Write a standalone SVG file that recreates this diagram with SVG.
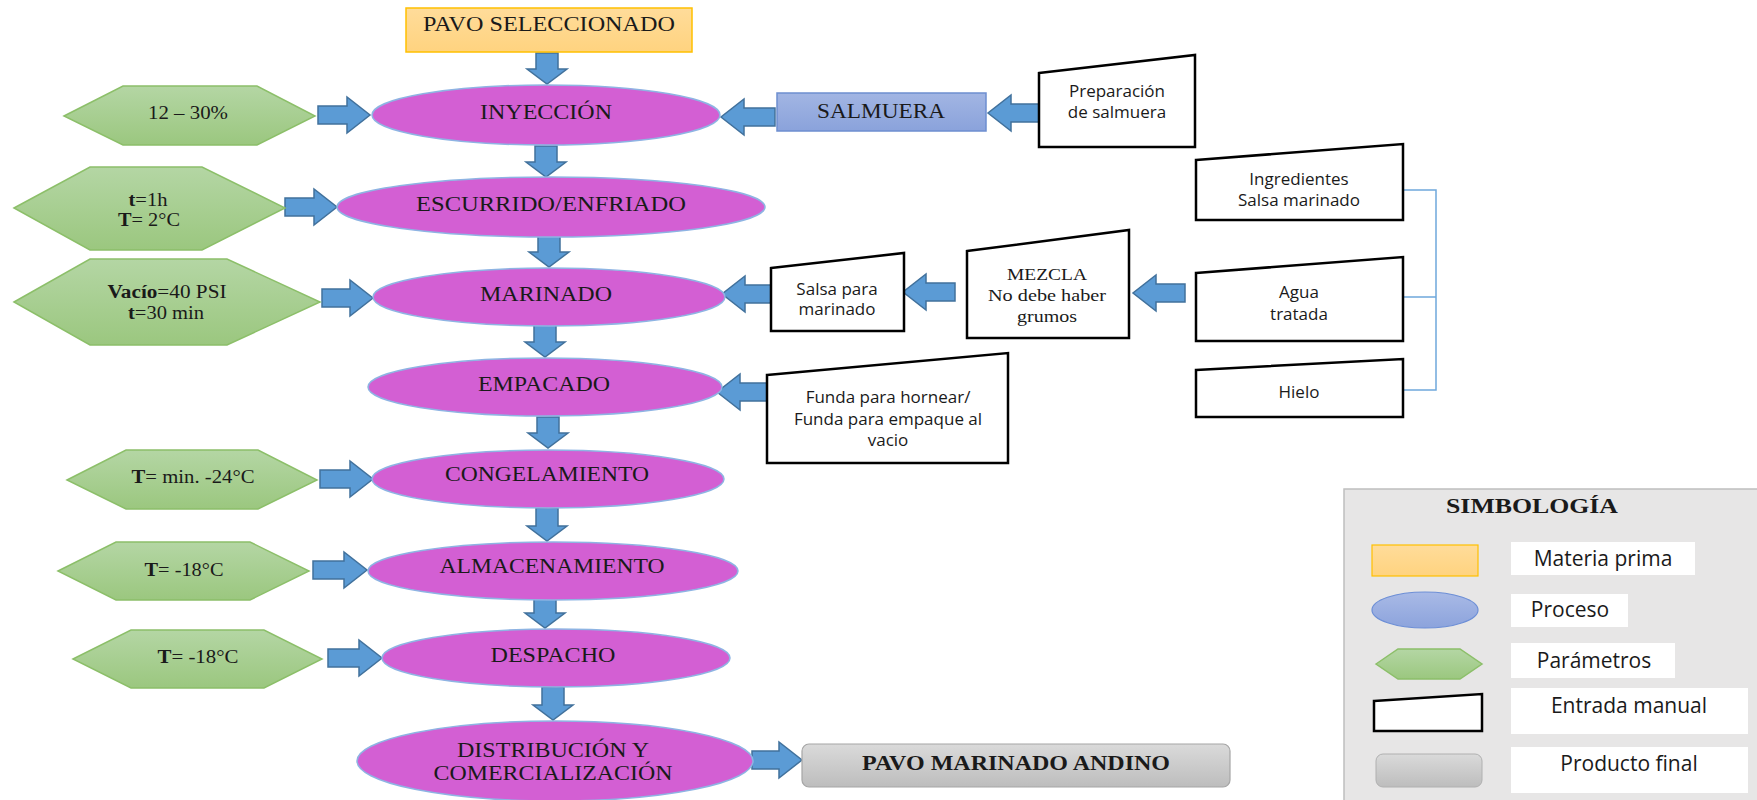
<svg xmlns="http://www.w3.org/2000/svg" width="1757" height="800" viewBox="0 0 1757 800">
<defs>
<linearGradient id="gHex" x1="0" y1="0" x2="0" y2="1"><stop offset="0" stop-color="#B4D6A4"/><stop offset="1" stop-color="#9BC77F"/></linearGradient>
<linearGradient id="gRaw" x1="0" y1="0" x2="0" y2="1"><stop offset="0" stop-color="#FFDC9A"/><stop offset="1" stop-color="#FFD37F"/></linearGradient>
<linearGradient id="gSal" x1="0" y1="0" x2="0" y2="1"><stop offset="0" stop-color="#A2B5E3"/><stop offset="1" stop-color="#8AA2DB"/></linearGradient>
<linearGradient id="gProc" x1="0" y1="0" x2="0" y2="1"><stop offset="0" stop-color="#A9BAE6"/><stop offset="1" stop-color="#8CA3DC"/></linearGradient>
<linearGradient id="gFin" x1="0" y1="0" x2="0" y2="1"><stop offset="0" stop-color="#DADADA"/><stop offset="1" stop-color="#BDBDBD"/></linearGradient>
<style>
.proc{fill:#D35FD3;stroke:#8EB4E3;stroke-width:1.5}
.hex{fill:url(#gHex);stroke:#8CBF69;stroke-width:1.5}
.man{fill:#FFFFFF;stroke:#000000;stroke-width:2.5}
.arr{fill:#5B9BD5;stroke:#41719C;stroke-width:1.5}
.ser{font-family:"Liberation Serif","Times New Roman",serif;fill:#1A1A1A;text-anchor:middle}
.sans{font-family:"Open Sans","Liberation Sans",sans-serif;fill:#1A1A1A;text-anchor:middle}
.pl{font-size:21px}
.hx{font-size:18px}
.bx{font-size:17px}
.lg{font-size:21px}
.lbl{fill:#FFFFFF}
</style>
</defs>
<rect width="1757" height="800" fill="#FFFFFF"/>

<g id="connectors">
<path class="arr" d="M536,53 H558 V69 H567 L547,84 L527,69 H536 Z"/>
<path class="arr" d="M535,146 H557 V162 H566 L546,177 L526,162 H535 Z"/>
<path class="arr" d="M538,236 H560 V252 H569 L549,267 L529,252 H538 Z"/>
<path class="arr" d="M534,325 H556 V342 H565 L545,357 L525,342 H534 Z"/>
<path class="arr" d="M537,417 H559 V433 H568 L548,448 L528,433 H537 Z"/>
<path class="arr" d="M536,508 H558 V526 H567 L547,541 L527,526 H536 Z"/>
<path class="arr" d="M534,598 H556 V613 H565 L545,628 L525,613 H534 Z"/>
<path class="arr" d="M542,687 H564 V705 H573 L553,720 L533,705 H542 Z"/>
<path class="arr" d="M318,106 H347 V97 L370,115 L347,133 V124 H318 Z"/>
<path class="arr" d="M285,198 H314 V189 L337,207 L314,225 V216 H285 Z"/>
<path class="arr" d="M322,289 H350 V280 L373,298 L350,316 V307 H322 Z"/>
<path class="arr" d="M320,470 H350 V461 L373,479 L350,497 V488 H320 Z"/>
<path class="arr" d="M313,561 H344 V552 L367,570 L344,588 V579 H313 Z"/>
<path class="arr" d="M328,649 H359 V640 L382,658 L359,676 V667 H328 Z"/>
<path class="arr" d="M752,751 H779 V742 L802,760 L779,778 V769 H752 Z"/>
<path class="arr" d="M775,108 H744 V99 L721,117 L744,135 V126 H775 Z"/>
<path class="arr" d="M1040,104 H1011 V95 L988,113 L1011,131 V122 H1040 Z"/>
<path class="arr" d="M772,285 H745 V276 L722,294 L745,312 V303 H772 Z"/>
<path class="arr" d="M955,283 H926 V274 L903,292 L926,310 V301 H955 Z"/>
<path class="arr" d="M1185,284 H1156 V275 L1133,293 L1156,311 V302 H1185 Z"/>
<path class="arr" d="M767,383 H740 V374 L717,392 L740,410 V401 H767 Z"/>
<path d="M1403,190 H1436 V390 H1403 M1403,297 H1436" fill="none" stroke="#6FA8DC" stroke-width="1.5"/>
</g>

<g id="pavo-seleccionado">
<rect x="406" y="8" width="286" height="44" fill="url(#gRaw)" stroke="#FFC000" stroke-width="1.5"/>
<text class="ser" x="549" y="31" font-size="21" textLength="252" lengthAdjust="spacingAndGlyphs">PAVO SELECCIONADO</text>
</g>

<g id="inyeccion">
<ellipse class="proc" cx="546" cy="115" rx="174" ry="30"/>
<text class="ser pl" x="546" y="119" textLength="132" lengthAdjust="spacingAndGlyphs">INYECCIÓN</text>
</g>
<g id="escurrido">
<ellipse class="proc" cx="551" cy="207" rx="214" ry="30"/>
<text class="ser pl" x="551" y="211" textLength="270" lengthAdjust="spacingAndGlyphs">ESCURRIDO/ENFRIADO</text>
</g>
<g id="marinado">
<ellipse class="proc" cx="549" cy="297" rx="176" ry="29"/>
<text class="ser pl" x="546" y="301" textLength="132" lengthAdjust="spacingAndGlyphs">MARINADO</text>
</g>
<g id="empacado">
<ellipse class="proc" cx="545" cy="387" rx="177" ry="29"/>
<text class="ser pl" x="544" y="391" textLength="132" lengthAdjust="spacingAndGlyphs">EMPACADO</text>
</g>
<g id="congelamiento">
<ellipse class="proc" cx="548" cy="479" rx="176" ry="29"/>
<text class="ser pl" x="547" y="481" textLength="204" lengthAdjust="spacingAndGlyphs">CONGELAMIENTO</text>
</g>
<g id="almacenamiento">
<ellipse class="proc" cx="553" cy="571" rx="185" ry="29"/>
<text class="ser pl" x="552" y="573" textLength="225" lengthAdjust="spacingAndGlyphs">ALMACENAMIENTO</text>
</g>
<g id="despacho">
<ellipse class="proc" cx="556" cy="658" rx="174" ry="29"/>
<text class="ser pl" x="553" y="662" textLength="125" lengthAdjust="spacingAndGlyphs">DESPACHO</text>
</g>
<g id="distribucion">
<ellipse class="proc" cx="555" cy="761" rx="198" ry="40"/>
<text class="ser pl" x="553" y="757" textLength="192" lengthAdjust="spacingAndGlyphs">DISTRIBUCIÓN Y</text>
<text class="ser pl" x="553" y="780" textLength="239" lengthAdjust="spacingAndGlyphs">COMERCIALIZACIÓN</text>
</g>

<g id="param-inyeccion">
<polygon class="hex" points="64,116 123,86 257,86 315,116 257,145 123,145"/>
<text class="ser hx" x="188" y="119" textLength="80" lengthAdjust="spacingAndGlyphs">12 – 30%</text>
</g>
<g id="param-escurrido">
<polygon class="hex" points="14,208 90,167 202,167 285,208 202,250 90,250"/>
<text class="ser hx" x="148" y="206" textLength="39" lengthAdjust="spacingAndGlyphs"><tspan font-weight="bold">t</tspan>=1h</text>
<text class="ser hx" x="149" y="226" textLength="62" lengthAdjust="spacingAndGlyphs"><tspan font-weight="bold">T</tspan>= 2°C</text>
</g>
<g id="param-marinado">
<polygon class="hex" points="14,302 90,259 227,259 320,302 227,345 90,345"/>
<text class="ser hx" x="167" y="298" textLength="119" lengthAdjust="spacingAndGlyphs"><tspan font-weight="bold">Vacío</tspan>=40 PSI</text>
<text class="ser hx" x="166" y="319" textLength="76" lengthAdjust="spacingAndGlyphs"><tspan font-weight="bold">t</tspan>=30 min</text>
</g>
<g id="param-congelamiento">
<polygon class="hex" points="67,480 126,450 258,450 317,480 258,509 126,509"/>
<text class="ser hx" x="193" y="483" textLength="123" lengthAdjust="spacingAndGlyphs"><tspan font-weight="bold">T</tspan>= min. -24°C</text>
</g>
<g id="param-almacenamiento">
<polygon class="hex" points="58,571 116,542 250,542 309,571 250,600 116,600"/>
<text class="ser hx" x="184" y="576" textLength="79" lengthAdjust="spacingAndGlyphs"><tspan font-weight="bold">T</tspan>= -18°C</text>
</g>
<g id="param-despacho">
<polygon class="hex" points="73,659 131,630 264,630 322,659 264,688 131,688"/>
<text class="ser hx" x="198" y="663" textLength="81" lengthAdjust="spacingAndGlyphs"><tspan font-weight="bold">T</tspan>= -18°C</text>
</g>

<g id="salmuera">
<rect x="777" y="93" width="209" height="38" fill="url(#gSal)" stroke="#6D8ED0" stroke-width="1.5"/>
<text class="ser" x="881" y="118" font-size="20" textLength="128" lengthAdjust="spacingAndGlyphs">SALMUERA</text>
</g>
<g id="preparacion-salmuera">
<polygon class="man" points="1039,73 1195,55 1195,147 1039,147"/>
<text class="sans bx" x="1117" y="97">Preparación</text>
<text class="sans bx" x="1117" y="118">de salmuera</text>
</g>
<g id="ingredientes">
<polygon class="man" points="1196,160 1403,144 1403,220 1196,220"/>
<text class="sans bx" x="1299" y="185">Ingredientes</text>
<text class="sans bx" x="1299" y="206">Salsa marinado</text>
</g>
<g id="agua">
<polygon class="man" points="1196,273 1403,257 1403,341 1196,341"/>
<text class="sans bx" x="1299" y="298">Agua</text>
<text class="sans bx" x="1299" y="320">tratada</text>
</g>
<g id="hielo">
<polygon class="man" points="1196,370 1403,359 1403,417 1196,417"/>
<text class="sans bx" x="1299" y="398">Hielo</text>
</g>
<g id="mezcla">
<polygon class="man" points="967,251 1129,230 1129,338 967,338"/>
<text class="ser" x="1047" y="280" font-size="17" textLength="80" lengthAdjust="spacingAndGlyphs">MEZCLA</text>
<text class="ser" x="1047" y="301" font-size="17" textLength="118" lengthAdjust="spacingAndGlyphs">No debe haber</text>
<text class="ser" x="1047" y="322" font-size="17" textLength="60" lengthAdjust="spacingAndGlyphs">grumos</text>
</g>
<g id="salsa-marinado">
<polygon class="man" points="771,268 904,253 904,331 771,331"/>
<text class="sans bx" x="837" y="295">Salsa para</text>
<text class="sans bx" x="837" y="315">marinado</text>
</g>
<g id="funda">
<polygon class="man" points="767,375 1008,353 1008,463 767,463"/>
<text class="sans bx" x="888" y="403">Funda para hornear/</text>
<text class="sans bx" x="888" y="425">Funda para empaque al</text>
<text class="sans bx" x="888" y="446">vacio</text>
</g>

<g id="producto-final">
<rect x="802" y="744" width="428" height="43" rx="7" fill="url(#gFin)" stroke="#A6A6A6" stroke-width="1.2"/>
<text class="ser" x="1016" y="770" font-size="20" font-weight="bold" textLength="308" lengthAdjust="spacingAndGlyphs">PAVO MARINADO ANDINO</text>
</g>

<g id="simbologia">
<rect x="1344" y="489" width="430" height="330" fill="#E7E6E6" stroke="#BFBFBF" stroke-width="1.5"/>
<text class="ser" x="1532" y="513" font-size="21" font-weight="bold" textLength="172" lengthAdjust="spacingAndGlyphs">SIMBOLOGÍA</text>
<rect x="1372" y="545" width="106" height="31" fill="url(#gRaw)" stroke="#FFC000" stroke-width="1.2"/>
<rect class="lbl" x="1511" y="542" width="184" height="33"/>
<text class="sans lg" x="1603" y="566">Materia prima</text>
<ellipse cx="1425" cy="610" rx="53" ry="18" fill="url(#gProc)" stroke="#6D8FD6" stroke-width="1.2"/>
<rect class="lbl" x="1511" y="594" width="117" height="33"/>
<text class="sans lg" x="1570" y="617">Proceso</text>
<polygon class="hex" points="1376,664 1398,649 1460,649 1482,664 1460,679 1398,679"/>
<rect class="lbl" x="1511" y="643" width="164" height="35"/>
<text class="sans lg" x="1594" y="668">Parámetros</text>
<polygon class="man" points="1374,701 1482,694 1482,731 1374,731"/>
<rect class="lbl" x="1511" y="688" width="237" height="46"/>
<text class="sans lg" x="1629" y="713">Entrada manual</text>
<rect x="1376" y="754" width="106" height="33" rx="7" fill="url(#gFin)" stroke="#B0B0B0" stroke-width="1"/>
<rect class="lbl" x="1511" y="747" width="237" height="46"/>
<text class="sans lg" x="1629" y="771">Producto final</text>
</g>
</svg>
